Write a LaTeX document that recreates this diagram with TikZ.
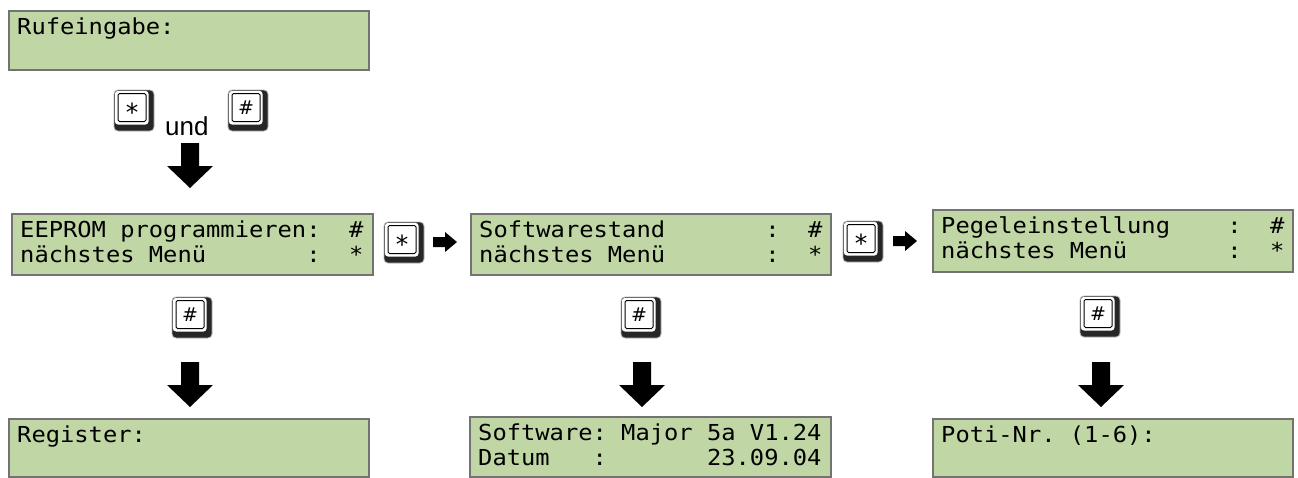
\documentclass[tikz,border=0pt]{standalone}
\usepackage{fontspec}
\setmainfont{Liberation Sans}
\newfontfamily\lcdfont[FakeStretch=1.08]{DejaVu Sans Mono}
\newfontfamily\keyfont{DejaVu Sans}
\definecolor{lcdgreen}{RGB}{192,214,165}
\definecolor{lcdborder}{RGB}{115,115,115}
\tikzset{
  lcd/.style={draw=lcdborder, fill=lcdgreen, line width=2pt, inner sep=0pt},
  lcdtext/.style={anchor=base west, inner sep=0pt, font=\lcdfont\fontsize{22}{25}\selectfont},
  keylabel/.style={inner sep=0pt, font=\keyfont\fontsize{19}{19}\selectfont},
  starlabel/.style={inner sep=0pt, font=\keyfont\fontsize{25}{25}\selectfont},
  blockarrow/.style={fill=black},
  keyouter/.style={fill=black!85, draw=gray!60, line width=0.8pt, rounded corners=4pt},
  keyhigh/.style={fill=white, rounded corners=3pt},
  keytop/.style={draw=black, fill=white, line width=1pt, rounded corners=1.5pt},
}
% name, x0, y0, width, height, line1, line2
\newcommand\lcdbox[7]{%
  \node[lcd, anchor=north west, minimum width=#4pt, minimum height=#5pt] (#1) at (#2,#3) {};
  \node[lcdtext] (#1-a) at ([xshift=9pt, yshift=-24pt]#1.north west) {#6};
  \node[lcdtext] (#1-b) at ([xshift=9pt, yshift=-49pt]#1.north west) {#7};
}
% name, x0, y0, label style, label, vertical position of label
\newcommand\keycap[6]{%
  \begin{scope}[shift={(#2,#3)}]
    \path[keyouter] (0,0) rectangle (40,41);
    \path[keyhigh] (0.9,0.9) rectangle (34.5,34.5);
    \path[keytop] (4,3.5) rectangle (32,31.5);
    \node[#4] (#1) at (18,#6) {#5};
  \end{scope}%
}
\newcommand\bigdown[2]{% name, position (center top)
  \coordinate (#1) at (#2);
  \fill[blockarrow] (#1) ++(-9,0) -- ++(18,0) -- ++(0,23) -- ++(14,0) -- ++(-23,22) -- ++(-23,-22) -- ++(14,0) -- cycle;
}
\newcommand\smallright[2]{% name, position (left, middle)
  \coordinate (#1) at (#2);
  \fill[blockarrow] (#1) ++(0,-5) -- ++(12,0) -- ++(0,-5) -- ++(12,10) -- ++(-12,10) -- ++(0,-5) -- ++(-12,0) -- cycle;
}
\begin{document}
\begin{tikzpicture}[x=1pt, y=-1pt]
  \useasboundingbox (0,0) rectangle (1298,477);

  % top
  \lcdbox{ruf}{8}{10}{360}{59}{Rufeingabe:}{}
  \keycap{kstar0}{114}{90}{starlabel}{*}{22}
  \node[anchor=base west, inner sep=0pt, font=\fontsize{26}{26}\selectfont] (und) at (165,135) {und};
  \keycap{khash0}{228}{90}{keylabel}{\#}{17.5}
  \bigdown{d0}{190,143}

  % middle row
  \lcdbox{eeprom}{11}{213}{361}{61}{EEPROM~programmieren:~~\#}{nächstes~Menü~~~~~~~:~~*}
  \keycap{kstar1}{384}{222}{starlabel}{*}{22}
  \smallright{r1}{433,242}
  \lcdbox{soft}{470}{213}{360}{61}{Softwarestand~~~~~~~:~~\#}{nächstes~Menü~~~~~~~:~~*}
  \keycap{kstar2}{843}{221}{starlabel}{*}{22}
  \smallright{r2}{893,241}
  \lcdbox{pegel}{932}{209}{360}{62}{Pegeleinstellung~~~~:~~\#}{nächstes~Menü~~~~~~~:~~*}

  % hash keys
  \keycap{khash1}{172}{297}{keylabel}{\#}{17.5}
  \keycap{khash2}{621}{297}{keylabel}{\#}{17.5}
  \keycap{khash3}{1080}{296}{keylabel}{\#}{17.5}

  % down arrows
  \bigdown{d1}{190,362}
  \bigdown{d2}{642,362}
  \bigdown{d3}{1101,362}

  % bottom row
  \lcdbox{reg}{8}{418}{360}{58}{Register:}{}
  \lcdbox{softinfo}{469}{416}{361}{60}{Software:~Major~5a~V1.24}{Datum~~~:~~~~~~~23.09.04}
  \lcdbox{poti}{932}{418}{360}{58}{Poti-Nr.~(1-6):}{}
\end{tikzpicture}
\end{document}
